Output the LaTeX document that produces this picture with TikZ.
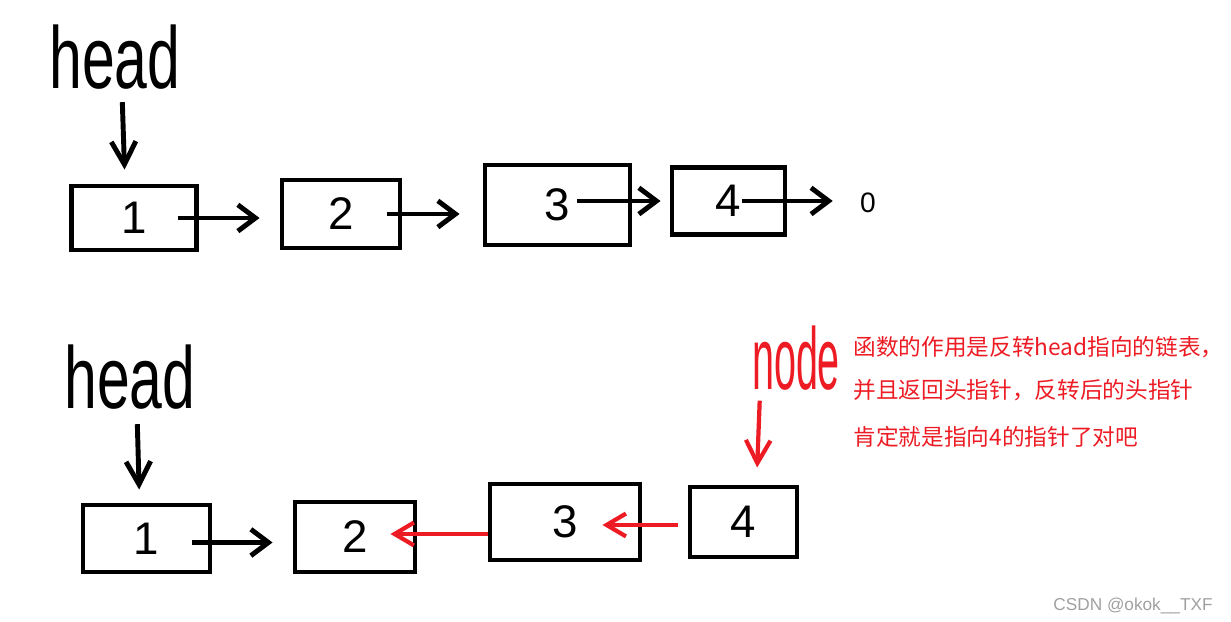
\documentclass[tikz,border=0pt]{standalone}
\usepackage{fontspec}
\setmainfont{Liberation Sans}
\newfontfamily\cjk{Noto Sans CJK SC}
\usepackage{graphicx}
\usepackage{xcolor}
\usetikzlibrary{arrows.meta}
\definecolor{pen}{RGB}{237,28,36}
\definecolor{wmgray}{RGB}{160,160,160}

\begin{document}
\begin{tikzpicture}[line width=1.4pt,
  cell/.style={draw,rectangle,inner sep=0pt,font=\fontsize{13}{13}\selectfont},
  hand/.style={inner sep=0pt,font=\fontsize{25}{25}\selectfont},
  link/.style={-{Straight Barb[length=5pt,width=7.5pt]}},
  down/.style={-{Straight Barb[length=6.5pt,width=7pt]}},
  back/.style={pen,line width=1.2pt,-{Straight Barb[length=5.5pt,width=6.5pt]}},
  note/.style={pen,inner sep=0pt,anchor=base west,font=\cjk\fontsize{6.45}{6.45}\selectfont}]

  \useasboundingbox (0,0) rectangle (12.31,6.22);

  % the list as given
  \node[hand] at (1.15,5.645) (h1) {\scalebox{0.67}[1]{head}};
  \node[cell,minimum width=1.25cm,minimum height=0.64cm] at (1.34,4.04) (t1) {1};
  \node[cell,minimum width=1.18cm,minimum height=0.68cm] at ([xshift=2.07cm,yshift=0.04cm]t1) (t2) {2};
  \node[cell,minimum width=1.45cm,minimum height=0.80cm] at (5.575,4.17) (t3) {3};
  \node[cell,minimum width=1.13cm,minimum height=0.67cm] at ([xshift=1.71cm,yshift=0.04cm]t3) (t4) {4};
  \node[inner sep=0pt,font=\fontsize{8}{8}\selectfont] at (8.68,4.19) (t5) {0};

  \draw [down,shorten <=0.1cm,shorten >=0.14cm] ([xshift=0.07cm]h1.south) -- ([xshift=-0.09cm]t1.north);
  \draw [link,shorten >=0.2cm] ([xshift=-0.21cm]t1.east) -- (t1.east -| t2.west);
  \draw [link,shorten >=0.23cm] ([xshift=-0.15cm]t2.east) -- (t2.east -| t3.west);
  \draw [link,shorten >=0.09cm] ([xshift=-0.55cm,yshift=0.04cm]t3.east) -- ([yshift=0.04cm]t3.east -| t4.west);
  \draw [link,shorten >=0.25cm] ([xshift=-0.45cm]t4.east) -- (t4.east -| t5.west);

  % after reversing
  \node[hand] at (1.30,2.445) (h2) {\scalebox{0.67}[1]{head}};
  \node[cell,minimum width=1.27cm,minimum height=0.67cm] at (1.465,0.835) (b1) {1};
  \node[cell,minimum width=1.20cm,minimum height=0.70cm] at ([xshift=2.085cm,yshift=0.015cm]b1) (b2) {2};
  \node[cell,minimum width=1.50cm,minimum height=0.76cm] at (5.65,1.00) (b3) {3};
  \node[cell,minimum width=1.07cm,minimum height=0.70cm] at ([xshift=1.785cm]b3) (b4) {4};

  \draw [down,shorten <=0.12cm,shorten >=0.13cm] ([xshift=0.07cm]h2.south) -- ([xshift=-0.07cm]b1.north);
  \draw [link,shorten >=0.2cm] ([xshift=-0.2cm,yshift=-0.04cm]b1.east) -- ([yshift=-0.04cm]b1.east -| b2.west);
  \draw [back,shorten >=-0.27cm] ([yshift=-0.12cm]b3.west) -- ([yshift=-0.12cm]b3.west -| b2.east);
  \draw [back,shorten >=-0.4cm] ([xshift=-0.1cm,yshift=-0.03cm]b4.west) -- ([yshift=-0.03cm]b4.west -| b3.east);

  \node[hand,pen] at (7.96,2.64) (nd) {\scalebox{0.45}[1]{node}};
  \draw [back,down,shorten <=0.08cm,shorten >=0.17cm] ([xshift=-0.36cm]nd.south) -- ([xshift=0.13cm]b4.north);

  \node[note] at (8.51,2.664) (c1) {函数的作用是反转head指向的链表，};
  \node[note] at ([yshift=-0.43cm]c1.base west) (c2) {并且返回头指针，反转后的头指针};
  \node[note] at ([yshift=-0.47cm]c2.base west) (c3) {肯定就是指向4的指针了对吧};

  \node[wmgray,inner sep=0pt,anchor=base east,font=\fontsize{4.9}{4.9}\selectfont] at (12.15,0.11) (wm) {CSDN @okok\_\_TXF};

\end{tikzpicture}
\end{document}
